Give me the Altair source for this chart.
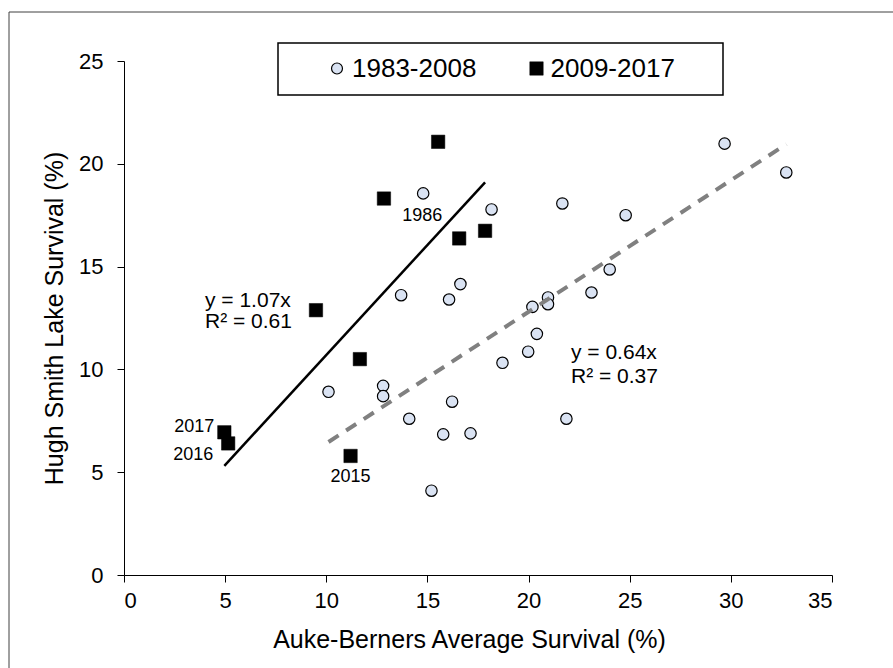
import altair as alt
import pandas as pd

FONT = "Liberation Sans"

# Auke-Berners average survival (%) vs Hugh Smith Lake survival (%)
early_label = "1983-2008"
early_x = [13.70, 14.10, 16.07, 14.79, 18.17, 21.67, 24.80, 24.01, 23.11, 20.96,
           20.96, 20.19, 20.41, 16.63, 29.69, 32.74, 10.11, 12.81, 12.81, 19.98,
           18.71, 16.22, 15.78, 17.13, 21.87, 15.20]
early_y = [13.61, 7.60, 13.40, 18.56, 17.78, 18.07, 17.50, 14.86, 13.74, 13.50,
           13.17, 13.04, 11.73, 14.15, 20.98, 19.58, 8.91, 9.20, 8.70, 10.86,
           10.32, 8.43, 6.84, 6.89, 7.60, 4.10]

late_label = "2009-2017"
late_x = [12.85, 15.53, 16.57, 17.85, 11.66, 9.49, 11.20, 5.15, 4.96]
late_y = [18.31, 21.07, 16.37, 16.74, 10.50, 12.88, 5.79, 6.40, 6.94]

# Trend lines through the origin
early_slope, early_r2 = 0.64, 0.37
late_slope, late_r2 = 1.07, 0.61

# Years called out next to their points
note_text = ["1986", "2015", "2016", "2017"]
note_x = [14.79, 11.20, 5.15, 4.96]
note_y = [18.56, 5.79, 6.40, 6.94]

x_ticks = [0, 5, 10, 15, 20, 25, 30, 35]
y_ticks = [0, 5, 10, 15, 20, 25]

W, H = 708, 514

early = pd.DataFrame({"x": early_x, "y": early_y})
late = pd.DataFrame({"x": late_x, "y": late_y})
early_fit = pd.DataFrame({"x": [min(early_x), max(early_x)]})
early_fit["y"] = early_fit["x"] * early_slope
late_fit = pd.DataFrame({"x": [min(late_x), max(late_x)]})
late_fit["y"] = late_fit["x"] * late_slope

xs = alt.Scale(domain=[0, 35], nice=False, zero=False)
ys = alt.Scale(domain=[0, 25], nice=False, zero=False)

x_axis = alt.Axis(values=x_ticks, title="Auke-Berners Average Survival (%)",
                  grid=False, tickSize=7, labelPadding=8, labelFontSize=22,
                  titleFontSize=25, titleFontWeight="normal",
                  titleX=345, titleY=72, titleAlign="center",
                  titleBaseline="alphabetic")
y_axis = alt.Axis(values=y_ticks, title="Hugh Smith Lake Survival (%)",
                  grid=False, tickSize=7, labelPadding=14, labelFontSize=22,
                  titleFontSize=25, titleFontWeight="normal",
                  titleX=-62, titleY=H / 2, titleAngle=-90, titleAlign="center",
                  titleBaseline="alphabetic")

enc_x = alt.X("x:Q", scale=xs, axis=x_axis)
enc_y = alt.Y("y:Q", scale=ys, axis=y_axis)

# Outer figure frame
frame = alt.Chart(pd.DataFrame({"k": [0]})).mark_rect(
    fillOpacity=0, stroke="#404040", strokeWidth=1
).encode(x=alt.value(-115), x2=alt.value(W + 200),
         y=alt.value(-49), y2=alt.value(H + 200))

early_pts = alt.Chart(early).mark_point(
    shape="circle", filled=True, fill="#dae3f3", fillOpacity=1,
    stroke="black", strokeWidth=1.2, size=130, opacity=1
).encode(x=enc_x, y=enc_y)

late_pts = alt.Chart(late).mark_point(
    shape="square", filled=True, fill="black", fillOpacity=1,
    stroke="black", strokeWidth=0.5, size=180, opacity=1
).encode(x="x:Q", y="y:Q")

early_line = alt.Chart(early_fit).mark_line(
    color="#808080", strokeWidth=4, strokeDash=[12, 9]
).encode(x="x:Q", y="y:Q")

late_line = alt.Chart(late_fit).mark_line(
    color="black", strokeWidth=2.5
).encode(x="x:Q", y="y:Q")

# Trend line equations
def eq_text(txt, px, py):
    return alt.Chart(pd.DataFrame({"t": [txt]})).mark_text(
        font=FONT, fontSize=21, align="left", baseline="alphabetic", color="black"
    ).encode(x=alt.value(px), y=alt.value(py), text="t:N")

eqs = [
    eq_text(f"y = {late_slope:.2f}x", 81, 246),
    eq_text(f"R² = {late_r2:.2f}", 81, 267),
    eq_text(f"y = {early_slope:.2f}x", 447, 298),
    eq_text(f"R² = {early_r2:.2f}", 447, 322),
]

# Year call-outs
note_style = [
    dict(align="center", dx=-1, dy=28),
    dict(align="center", dx=0, dy=26),
    dict(align="right", dx=-15, dy=17),
    dict(align="right", dx=-10, dy=0),
]
notes = []
for t, nx, ny, st in zip(note_text, note_x, note_y, note_style):
    notes.append(
        alt.Chart(pd.DataFrame({"x": [nx], "y": [ny], "t": [t]})).mark_text(
            font=FONT, fontSize=18, baseline="alphabetic", color="black", **st
        ).encode(x="x:Q", y="y:Q", text="t:N")
    )

# Legend box
legend_box = alt.Chart(pd.DataFrame({"k": [0]})).mark_rect(
    fill="white", stroke="black", strokeWidth=1.5
).encode(x=alt.value(154), x2=alt.value(599), y=alt.value(-18), y2=alt.value(34))

leg_circle = alt.Chart(pd.DataFrame({"k": [0]})).mark_point(
    shape="circle", filled=True, fill="#dae3f3", stroke="black",
    strokeWidth=1.2, size=120, opacity=1
).encode(x=alt.value(213), y=alt.value(7.5))

leg_square = alt.Chart(pd.DataFrame({"k": [0]})).mark_point(
    shape="square", filled=True, fill="black", stroke="black",
    strokeWidth=0.5, size=180, opacity=1
).encode(x=alt.value(412.5), y=alt.value(7.5))

def leg_text(txt, px):
    return alt.Chart(pd.DataFrame({"t": [txt]})).mark_text(
        font=FONT, fontSize=26, align="left", baseline="middle", color="black"
    ).encode(x=alt.value(px), y=alt.value(8), text="t:N")

chart = alt.layer(
    frame, early_pts, late_pts, early_line, late_line, *eqs, *notes,
    legend_box, leg_circle, leg_square,
    leg_text(early_label, 228), leg_text(late_label, 426.5),
).properties(
    width=W, height=H,
    autosize=alt.AutoSizeParams(type="none"),
    padding={"left": 124, "top": 61, "right": 61, "bottom": 93},
    background="white",
).configure_view(stroke=None).configure_axis(
    domainColor="black", tickColor="black", labelColor="black",
    titleColor="black", labelFont=FONT, titleFont=FONT,
    domainWidth=1, tickWidth=1,
)

chart.save("out.html", embed_options={"renderer": "svg", "actions": False})
